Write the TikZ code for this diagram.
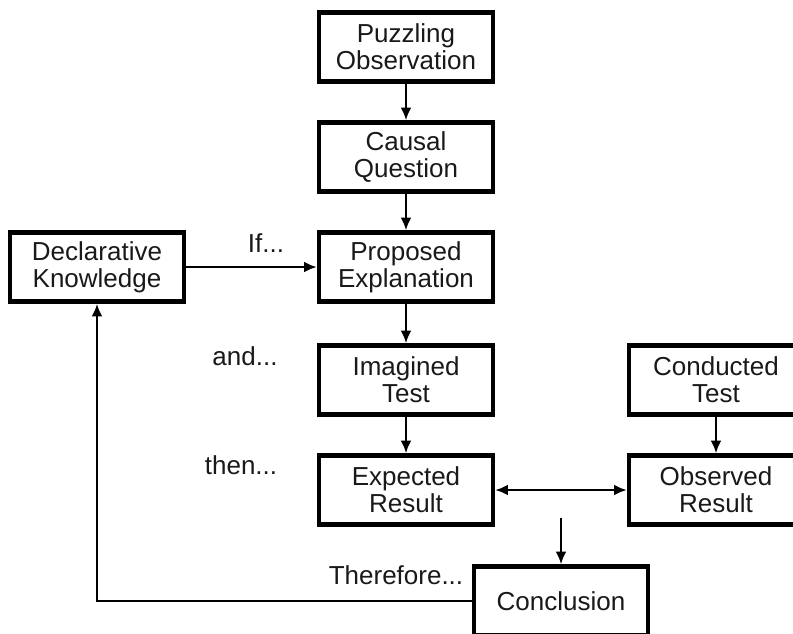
\documentclass[tikz,border=0pt]{standalone}
\usepackage{fontspec}
\setmainfont{Liberation Sans}
\usetikzlibrary{arrows.meta}

\tikzset{
  stepbox/.style={draw, line width=3.3pt, minimum width=130.5pt, minimum height=51.75pt,
    align=center, inner sep=0pt, text=black!90, font=\fontsize{19.5}{20.5}\selectfont},
  lbl/.style={text=black!90, font=\fontsize{19.5}{20.5}\selectfont},
  conn/.style={line width=1.6pt, -{Latex[length=9.5pt,width=8pt]}}
}

\begin{document}
\begin{tikzpicture}[x=0.75pt,y=-0.75pt]
    \clip (0,0) rectangle (793,633);

    % main column
    \node[stepbox] (pzl) at (406,47)  {Puzzling\\Observation};
    \node[stepbox] (csl) at (406,157) {Causal\\Question};
    \node[stepbox] (prp) at (406,267) {Proposed\\Explanation};
    \node[stepbox] (img) at (406,380) {Imagined\\Test};
    \node[stepbox] (exp) at (406,490) {Expected\\Result};

    % side boxes
    \node[stepbox] (dcl) at (97,267)  {Declarative\\Knowledge};
    \node[stepbox] (cnd) at (716,380) {Conducted\\Test};
    \node[stepbox] (obs) at (716,490) {Observed\\Result};
    \node[stepbox] (ccl) at (561,601) {Conclusion};

    % words on the left
    \node[lbl] (ifw)  at (266,243) {If...};
    \node[lbl] (andw) at (245,356) {and...};
    \node[lbl] (thnw) at (241,465) {then...};
    \node[lbl] (thfw) at (396,575) {Therefore...};

    \coordinate (drop) at (561,518);

    \draw[conn] (pzl) -- (csl);
    \draw[conn] (csl) -- (prp);
    \draw[conn] (dcl) -- (prp);
    \draw[conn] (prp) -- (img);
    \draw[conn] (img) -- (exp);
    \draw[conn] (cnd) -- (obs);
    \draw[conn, {Latex[length=9.5pt,width=8pt]}-{Latex[length=9.5pt,width=8pt]}] (exp) -- (obs);
    \draw[conn] (drop) -- (ccl);
    \draw[conn] (ccl.west) -- (dcl.south |- ccl.west) -- (dcl.south);
\end{tikzpicture}
\end{document}
